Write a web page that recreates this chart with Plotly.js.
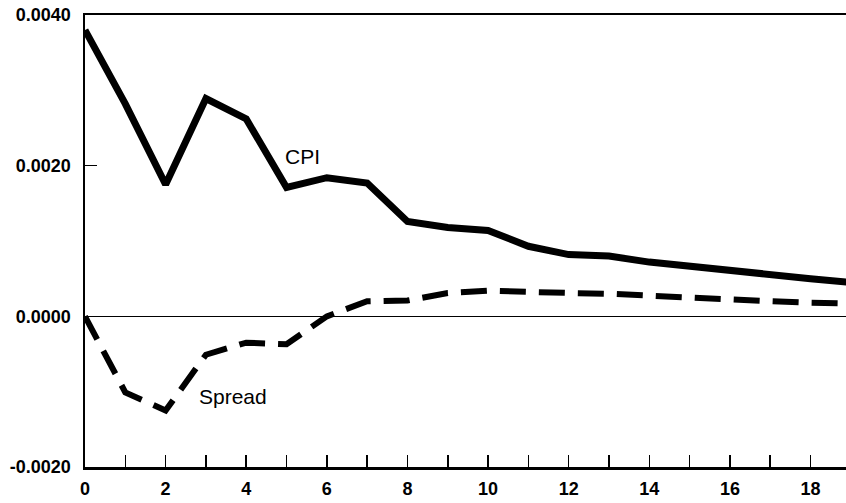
<!DOCTYPE html>
<html>
<head>
<meta charset="utf-8">
<script src="https://cdn.plot.ly/plotly-3.0.1.min.js"></script>
<style>
  html, body { margin: 0; padding: 0; background: #fff; }
  #chart { width: 846px; height: 503px; }
</style>
</head>
<body>
<div id="chart"></div>
<script>
// Horizon (periods after the shock)
const horizon = [0, 1, 2, 3, 4, 5, 6, 7, 8, 9, 10, 11, 12, 13, 14, 15, 16, 17, 18, 19];

// Impulse responses
const cpiResponse = [0.0038, 0.00282, 0.00175, 0.00289, 0.00262, 0.00171, 0.00184, 0.00177,
  0.00126, 0.00118, 0.00114, 0.00093, 0.00082, 0.0008, 0.00072, 0.00066, 0.00061, 0.00055,
  0.0005, 0.00045];
const spreadResponse = [0.0, -0.00101, -0.00125, -0.00051, -0.00035, -0.00037, 0.0, 0.0002,
  0.00021, 0.00031, 0.00034, 0.00032, 0.00031, 0.0003, 0.00027, 0.00025, 0.00022, 0.0002,
  0.00018, 0.00017];

// Axis ticks
const xTickVals = [0, 1, 2, 3, 4, 5, 6, 7, 8, 9, 10, 11, 12, 13, 14, 15, 16, 17, 18];
const xTickText = ['0', '', '2', '', '4', '', '6', '', '8', '', '10', '', '12', '', '14', '', '16', '', '18'];
const yTickVals = [-0.002, 0.0, 0.002, 0.004];
const yTickText = ['-0.0020', '0.0000', '0.0020', '0.0040'];

// Series labels placed on the plot
const labelText = ['CPI', 'Spread'];
const labelX = [5.4, 3.68];
const labelY = [0.00212, -0.00107];

const traces = [
  {
    x: horizon, y: cpiResponse, type: 'scatter', mode: 'lines', name: 'CPI',
    line: { color: '#000', width: 7, shape: 'linear' }
  },
  {
    x: horizon, y: spreadResponse, type: 'scatter', mode: 'lines', name: 'Spread',
    line: { color: '#000', width: 6, dash: '26px,13px' }
  }
];

const tickFont = { family: 'Liberation Sans, Arial, sans-serif', size: 18, color: '#000', weight: 'bold' };

const layout = {
  width: 846, height: 503,
  margin: { l: 85, r: 0, t: 15, b: 36 },
  paper_bgcolor: '#fff', plot_bgcolor: '#fff',
  showlegend: false,
  xaxis: {
    range: [0, 18.88],
    tickmode: 'array', tickvals: xTickVals, ticktext: xTickText,
    ticks: 'inside', ticklen: 12, tickwidth: 1.5, tickcolor: '#000',
    showline: true, linecolor: '#000', linewidth: 2.5, mirror: true,
    showgrid: false, zeroline: false,
    tickfont: tickFont, ticklabelstandoff: 4
  },
  yaxis: {
    range: [-0.002, 0.004],
    tickmode: 'array', tickvals: yTickVals, ticktext: yTickText,
    ticks: 'inside', ticklen: 12, tickwidth: 1.5, tickcolor: '#000',
    showline: true, linecolor: '#000', linewidth: 2.5,
    showgrid: false, zeroline: true, zerolinecolor: '#000', zerolinewidth: 1.5,
    tickfont: tickFont, ticklabelstandoff: 8
  },
  annotations: labelText.map((t, i) => ({
    x: labelX[i], y: labelY[i], xref: 'x', yref: 'y', text: t, showarrow: false,
    font: { family: 'Liberation Sans, Arial, sans-serif', size: 21, color: '#000' }
  }))
};

Plotly.newPlot('chart', traces, layout, { displayModeBar: false, staticPlot: true });
</script>
</body>
</html>
